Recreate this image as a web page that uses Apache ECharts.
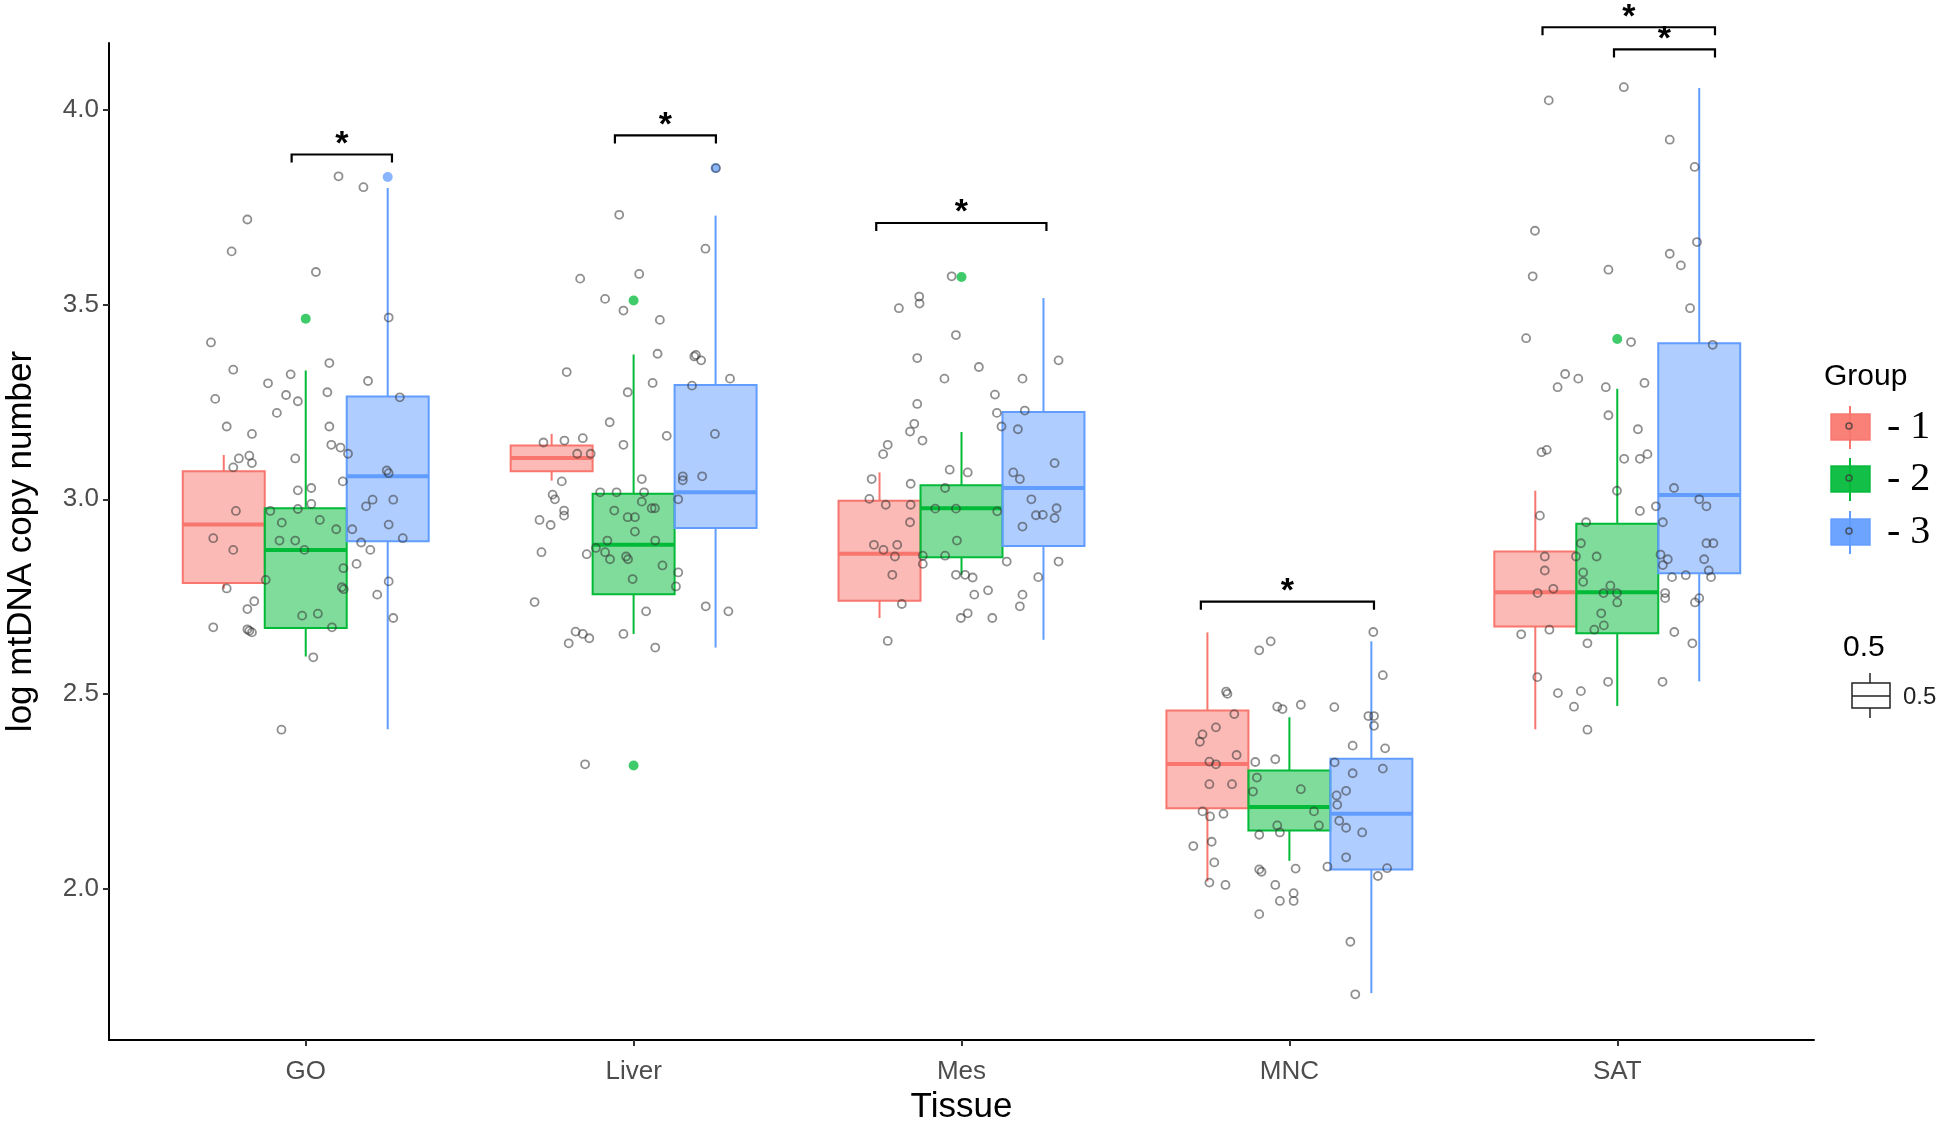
<!DOCTYPE html>
<html>
<head>
<meta charset="utf-8">
<script src="https://cdn.jsdelivr.net/npm/echarts@6/dist/echarts.min.js"></script>
<style>
html,body{margin:0;padding:0;background:#fff;}
#chart{width:1946px;height:1122px;}
</style>
</head>
<body>
<div id="chart"></div>
<script>
// ---------------- data ----------------
const tissues = ['GO', 'Liver', 'Mes', 'MNC', 'SAT'];
const groupNames = ['- 1', '- 2', '- 3'];
const yTicks = [2.0, 2.5, 3.0, 3.5, 4.0];

// box stats per tissue: [lowWhisker, Q1, median, Q3, highWhisker]
const box1 = [[2.770, 2.785, 2.935, 3.072, 3.114], [3.048, 3.072, 3.106, 3.138, 3.168], [2.695, 2.739, 2.860, 2.996, 3.069], [2.018, 2.206, 2.320, 2.457, 2.658], [2.409, 2.673, 2.761, 2.866, 3.022]];
const box2 = [[2.596, 2.669, 2.870, 2.977, 3.331], [2.654, 2.756, 2.883, 3.014, 3.372], [2.806, 2.851, 2.977, 3.036, 3.173], [2.071, 2.149, 2.209, 2.303, 2.440], [2.469, 2.656, 2.761, 2.937, 3.284]];
const box3 = [[2.409, 2.892, 3.059, 3.264, 3.800], [2.619, 2.926, 3.018, 3.294, 3.729], [2.639, 2.880, 3.029, 3.224, 3.517], [1.731, 2.049, 2.192, 2.333, 2.635], [2.532, 2.810, 3.011, 3.401, 4.057]];

// outliers: [tissueIndex, value]
const out1 = [];
const out2 = [[0, 3.464], [1, 3.511], [1, 2.316], [2, 3.571], [4, 3.412]];
const out3 = [[0, 3.828], [1, 3.851]];

// significance brackets: [xStart, xEnd, y]
const brackets = [[-0.043, 0.263, 3.886], [0.943, 1.251, 3.935], [1.740, 2.259, 3.710], [2.730, 3.258, 2.737], [3.772, 4.298, 4.213], [3.990, 4.298, 4.156]];

// jittered observations: [jitterOffset, value]
const ptsGO = [[0.100,3.830],[0.176,3.802],[-0.178,3.719],[-0.226,3.637],[0.031,3.584],[0.253,3.467],[-0.289,3.403],[-0.221,3.333],[0.072,3.350],[-0.046,3.321],[-0.115,3.298],[0.190,3.304],[0.066,3.275],[-0.276,3.258],[-0.060,3.268],[-0.024,3.252],[0.287,3.262],[-0.088,3.222],[-0.241,3.187],[0.072,3.187],[-0.164,3.168],[0.078,3.140],[0.106,3.133],[0.129,3.117],[-0.172,3.112],[-0.204,3.105],[-0.032,3.105],[-0.164,3.093],[-0.221,3.082],[0.247,3.074],[0.253,3.067],[0.113,3.046],[-0.024,3.023],[0.017,3.029],[0.204,2.999],[0.184,2.982],[0.267,2.999],[0.017,2.988],[-0.213,2.970],[-0.108,2.970],[-0.024,2.975],[-0.073,2.940],[0.043,2.947],[0.093,2.923],[0.142,2.923],[-0.282,2.900],[-0.080,2.894],[-0.032,2.894],[0.253,2.935],[0.296,2.900],[0.169,2.889],[0.197,2.870],[-0.004,2.870],[-0.221,2.870],[0.155,2.834],[0.115,2.823],[-0.122,2.793],[0.110,2.774],[0.116,2.769],[-0.241,2.771],[0.253,2.789],[0.218,2.755],[-0.157,2.738],[-0.178,2.718],[-0.011,2.701],[0.037,2.706],[-0.282,2.671],[-0.178,2.666],[-0.172,2.662],[-0.164,2.658],[0.080,2.671],[0.267,2.695],[0.023,2.594],[-0.074,2.408]];
const ptsLiver = [[-0.044,3.731],[0.219,3.644],[0.017,3.579],[-0.163,3.567],[-0.087,3.515],[-0.031,3.485],[0.080,3.461],[0.073,3.374],[0.190,3.371],[0.185,3.367],[0.206,3.357],[-0.204,3.327],[0.294,3.310],[0.058,3.299],[0.178,3.292],[-0.018,3.275],[-0.073,3.198],[0.248,3.168],[0.101,3.163],[-0.155,3.157],[-0.211,3.151],[-0.275,3.146],[-0.031,3.140],[-0.172,3.117],[-0.131,3.117],[0.150,3.059],[0.150,3.049],[0.209,3.059],[-0.219,3.046],[0.025,3.052],[-0.247,3.012],[-0.240,3.000],[-0.102,3.018],[-0.052,3.018],[0.032,3.018],[0.025,2.994],[0.136,3.000],[-0.212,2.971],[-0.212,2.958],[-0.059,2.971],[0.055,2.977],[0.065,2.977],[-0.287,2.947],[-0.253,2.934],[-0.018,2.954],[0.004,2.954],[0.004,2.917],[-0.080,2.894],[0.066,2.894],[-0.281,2.864],[-0.143,2.859],[-0.115,2.875],[-0.087,2.864],[-0.072,2.846],[-0.023,2.853],[-0.017,2.846],[0.088,2.830],[0.136,2.812],[-0.003,2.795],[0.129,2.776],[-0.302,2.736],[0.220,2.725],[0.289,2.712],[0.038,2.712],[-0.031,2.654],[-0.177,2.660],[-0.155,2.654],[-0.135,2.643],[-0.198,2.630],[0.066,2.619],[-0.148,2.319],[0.251,3.851]];
const ptsMes = [[-0.030,3.573],[-0.129,3.521],[-0.128,3.503],[-0.191,3.491],[-0.017,3.422],[-0.135,3.363],[0.296,3.357],[0.053,3.340],[-0.052,3.310],[0.186,3.310],[0.102,3.269],[-0.135,3.245],[0.108,3.222],[0.193,3.228],[-0.144,3.194],[-0.157,3.174],[0.122,3.187],[0.172,3.180],[-0.119,3.151],[-0.225,3.140],[-0.239,3.116],[0.284,3.093],[-0.036,3.076],[0.019,3.069],[0.158,3.069],[0.178,3.052],[-0.274,3.052],[-0.155,3.040],[-0.050,3.029],[-0.281,3.001],[-0.231,2.986],[-0.155,2.986],[0.213,3.000],[-0.080,2.976],[-0.017,2.976],[0.109,2.969],[0.290,2.977],[0.227,2.959],[0.248,2.960],[0.284,2.952],[-0.157,2.941],[0.186,2.930],[-0.267,2.883],[-0.238,2.870],[-0.196,2.883],[-0.014,2.894],[-0.203,2.853],[-0.118,2.855],[-0.050,2.855],[-0.118,2.834],[0.138,2.840],[0.296,2.840],[-0.211,2.806],[-0.017,2.806],[0.011,2.806],[0.034,2.799],[0.234,2.800],[0.081,2.766],[0.039,2.755],[0.186,2.755],[0.178,2.725],[-0.182,2.731],[0.019,2.707],[-0.002,2.695],[0.094,2.695],[-0.225,2.636]];
const ptsMNC = [[0.256,2.659],[-0.057,2.635],[-0.092,2.612],[0.285,2.548],[-0.193,2.506],[-0.189,2.500],[-0.168,2.448],[-0.037,2.467],[-0.021,2.461],[0.035,2.472],[0.137,2.466],[0.241,2.443],[0.258,2.443],[0.258,2.418],[-0.224,2.414],[-0.265,2.396],[-0.273,2.377],[0.193,2.367],[0.292,2.360],[-0.161,2.343],[-0.244,2.326],[-0.224,2.319],[-0.104,2.325],[-0.043,2.332],[0.138,2.324],[0.285,2.308],[-0.099,2.285],[0.193,2.296],[-0.244,2.268],[-0.175,2.268],[0.035,2.255],[-0.111,2.249],[0.173,2.251],[0.144,2.239],[0.146,2.215],[-0.265,2.198],[-0.242,2.185],[-0.201,2.192],[0.075,2.198],[0.152,2.174],[0.173,2.156],[0.222,2.144],[-0.037,2.162],[0.090,2.162],[-0.029,2.144],[-0.092,2.138],[-0.237,2.120],[-0.293,2.109],[-0.229,2.067],[0.173,2.080],[0.116,2.056],[0.019,2.051],[0.298,2.052],[0.270,2.032],[-0.092,2.049],[-0.085,2.043],[-0.244,2.015],[-0.195,2.009],[-0.043,2.009],[0.013,1.988],[-0.029,1.968],[0.013,1.968],[-0.092,1.934],[0.186,1.863],[0.201,1.728]];
const ptsSAT = [[0.020,4.059],[-0.209,4.025],[0.160,3.924],[0.236,3.854],[-0.251,3.690],[0.243,3.661],[0.160,3.631],[0.194,3.601],[-0.027,3.590],[-0.258,3.573],[0.222,3.491],[-0.278,3.414],[0.042,3.404],[0.291,3.397],[-0.159,3.322],[-0.119,3.310],[-0.182,3.288],[-0.035,3.288],[0.083,3.299],[-0.027,3.216],[0.063,3.180],[-0.231,3.121],[-0.215,3.127],[0.021,3.104],[0.069,3.104],[0.092,3.116],[-0.001,3.022],[0.173,3.029],[0.250,3.000],[0.272,2.982],[0.118,2.982],[0.069,2.970],[-0.236,2.958],[-0.095,2.941],[0.139,2.941],[0.272,2.887],[0.293,2.887],[-0.111,2.887],[-0.221,2.853],[-0.126,2.853],[-0.063,2.853],[0.132,2.858],[0.154,2.846],[0.265,2.846],[0.139,2.831],[-0.221,2.817],[-0.104,2.812],[-0.104,2.788],[0.279,2.817],[0.167,2.800],[0.209,2.805],[0.286,2.800],[-0.021,2.778],[-0.195,2.770],[-0.243,2.759],[-0.042,2.759],[-0.001,2.759],[0.146,2.759],[0.146,2.746],[0.000,2.735],[0.237,2.735],[0.250,2.746],[-0.049,2.707],[-0.041,2.676],[-0.070,2.665],[-0.293,2.653],[-0.207,2.665],[0.174,2.659],[-0.091,2.630],[0.229,2.630],[-0.244,2.543],[-0.028,2.531],[0.138,2.531],[-0.181,2.502],[-0.111,2.507],[-0.132,2.467],[-0.091,2.408]];

// ---------------- styling ----------------
const colors = ['#F8766D', '#00BA38', '#619CFF'];
const fills = ['rgba(248,118,109,0.5)', 'rgba(0,186,56,0.5)', 'rgba(97,156,255,0.5)'];
const dodge = [-0.25, 0, 0.25];
const halfW = 0.125;
const SANS = '"Liberation Sans", Arial, sans-serif';
const SERIF = '"Liberation Serif", "Times New Roman", serif';

const boxes = [box1, box2, box3];
const outs = [out1, out2, out3];
const ptsAll = [ptsGO, ptsLiver, ptsMes, ptsMNC, ptsSAT];

function boxSeries(g) {
  return {
    type: 'custom',
    name: groupNames[g],
    z: 2,
    data: boxes[g].map((s, i) => [i].concat(s)),
    encode: { x: 0, y: [1, 2, 3, 4, 5] },
    renderItem: function (params, api) {
      const xc = api.value(0) + dodge[g];
      const lo = api.value(1), q1 = api.value(2), med = api.value(3), q3 = api.value(4), hi = api.value(5);
      const tl = api.coord([xc - halfW, q3]);
      const br = api.coord([xc + halfW, q1]);
      const mL = api.coord([xc - halfW, med]);
      const mR = api.coord([xc + halfW, med]);
      const wHi = api.coord([xc, hi]);
      const wQ3 = api.coord([xc, q3]);
      const wQ1 = api.coord([xc, q1]);
      const wLo = api.coord([xc, lo]);
      return {
        type: 'group',
        children: [
          { type: 'line', shape: { x1: wQ3[0], y1: wQ3[1], x2: wHi[0], y2: wHi[1] }, style: { stroke: colors[g], lineWidth: 2 } },
          { type: 'line', shape: { x1: wQ1[0], y1: wQ1[1], x2: wLo[0], y2: wLo[1] }, style: { stroke: colors[g], lineWidth: 2 } },
          { type: 'rect', shape: { x: tl[0], y: tl[1], width: br[0] - tl[0], height: br[1] - tl[1] }, style: { fill: fills[g], stroke: colors[g], lineWidth: 2 } },
          { type: 'line', shape: { x1: mL[0], y1: mL[1], x2: mR[0], y2: mR[1] }, style: { stroke: colors[g], lineWidth: 4 } }
        ]
      };
    }
  };
}

function outlierSeries(g) {
  return {
    type: 'scatter',
    z: 3,
    symbol: 'circle',
    symbolSize: 10,
    itemStyle: { color: colors[g], opacity: 0.75 },
    data: outs[g].map(o => [o[0] + dodge[g], o[1]])
  };
}

const jitterData = [];
ptsAll.forEach((arr, i) => arr.forEach(p => jitterData.push([i + p[0], p[1]])));

const bracketSeries = {
  type: 'custom',
  z: 6,
  clip: false,
  data: brackets,
  encode: { x: [0, 1], y: 2 },
  renderItem: function (params, api) {
    const x1 = api.value(0), x2 = api.value(1), y = api.value(2);
    const a = api.coord([x1, y]);
    const b = api.coord([x2, y]);
    const drop = 8;
    return {
      type: 'group',
      children: [
        { type: 'polyline', shape: { points: [[a[0], a[1] + drop], [a[0], a[1]], [b[0], b[1]], [b[0], b[1] + drop]] }, style: { stroke: '#000', lineWidth: 2.2, fill: null } },
        { type: 'text', style: { text: '*', x: (a[0] + b[0]) / 2, y: a[1] - 10, textAlign: 'center', textVerticalAlign: 'middle', font: 'bold 34px ' + SANS, fill: '#000' } }
      ]
    };
  }
};

// legend graphics (absolute pixel layout)
const legendEls = [
  { type: 'text', z: 10, style: { text: 'Group', x: 1824, y: 377, textVerticalAlign: 'middle', font: '30px ' + SANS, fill: '#000' } }
];
const keyCenters = [427, 479, 532];
keyCenters.forEach((cy, g) => {
  legendEls.push({ type: 'line', z: 10, shape: { x1: 1850, y1: cy - 21, x2: 1850, y2: cy + 22 }, style: { stroke: colors[g], lineWidth: 2 } });
  legendEls.push({ type: 'rect', z: 11, shape: { x: 1831, y: cy - 13, width: 39, height: 26 }, style: { fill: colors[g], opacity: 0.92, stroke: colors[g], lineWidth: 1.5 } });
  legendEls.push({ type: 'circle', z: 12, shape: { cx: 1849, cy: cy - 1, r: 3 }, style: { fill: 'none', stroke: 'rgba(60,60,60,0.8)', lineWidth: 1.5 } });
  legendEls.push({ type: 'text', z: 10, style: { text: groupNames[g], x: 1887, y: cy, textVerticalAlign: 'middle', font: '40px ' + SERIF, fill: '#000' } });
});
legendEls.push({ type: 'text', z: 10, style: { text: '0.5', x: 1843, y: 648, textVerticalAlign: 'middle', font: '30px ' + SANS, fill: '#000' } });
legendEls.push({ type: 'line', z: 10, shape: { x1: 1870, y1: 673, x2: 1870, y2: 718 }, style: { stroke: '#222', lineWidth: 1.5 } });
legendEls.push({ type: 'rect', z: 11, shape: { x: 1852, y: 683, width: 38, height: 25 }, style: { fill: '#fff', stroke: '#222', lineWidth: 1.5 } });
legendEls.push({ type: 'line', z: 12, shape: { x1: 1852, y1: 696, x2: 1890, y2: 696 }, style: { stroke: '#222', lineWidth: 1.5 } });
legendEls.push({ type: 'text', z: 10, style: { text: '0.5', x: 1903, y: 697, textVerticalAlign: 'middle', font: '24px ' + SANS, fill: '#222' } });

const chart = echarts.init(document.getElementById('chart'), null, { renderer: 'canvas' });
chart.setOption({
  animation: false,
  backgroundColor: '#fff',
  grid: { left: 109, right: 132, top: 43, bottom: 82, containLabel: false, outerBoundsMode: 'none' },
  xAxis: {
    type: 'value',
    min: -0.6,
    max: 4.6,
    name: 'Tissue',
    nameLocation: 'middle',
    nameGap: 50,
    nameTextStyle: { fontFamily: SANS, fontSize: 35, color: '#000' },
    axisLine: { show: true, onZero: false, lineStyle: { color: '#000', width: 2 } },
    axisTick: { show: true, length: 6, customValues: [0, 1, 2, 3, 4], lineStyle: { color: '#333', width: 2 } },
    axisLabel: { customValues: [0, 1, 2, 3, 4], formatter: v => tissues[Math.round(v)], fontFamily: SANS, fontSize: 26, color: '#4D4D4D', margin: 19 },
    splitLine: { show: false }
  },
  yAxis: {
    type: 'value',
    min: 1.6106,
    max: 4.1725,
    name: 'log mtDNA copy number',
    nameLocation: 'middle',
    nameGap: 70,
    nameTextStyle: { fontFamily: SANS, fontSize: 35, color: '#000' },
    axisLine: { show: true, onZero: false, lineStyle: { color: '#000', width: 2 } },
    axisTick: { show: true, length: 6, customValues: yTicks, lineStyle: { color: '#333', width: 2 } },
    axisLabel: { customValues: yTicks, formatter: v => v.toFixed(1), fontFamily: SANS, fontSize: 26, color: '#4D4D4D', margin: 10 },
    splitLine: { show: false }
  },
  graphic: legendEls,
  series: [
    boxSeries(0), boxSeries(1), boxSeries(2),
    outlierSeries(0), outlierSeries(1), outlierSeries(2),
    {
      type: 'scatter',
      z: 5,
      symbol: 'circle',
      symbolSize: 8,
      itemStyle: { color: 'rgba(0,0,0,0)', borderColor: 'rgba(55,55,55,0.7)', borderWidth: 1.8 },
      data: jitterData
    },
    bracketSeries
  ]
});
</script>
</body>
</html>
